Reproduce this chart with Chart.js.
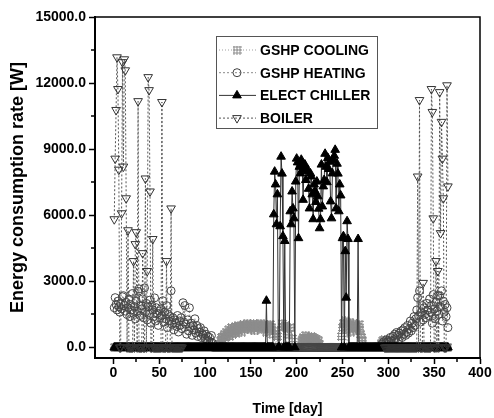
<!DOCTYPE html>
<html>
<head>
<meta charset="utf-8">
<script src="https://cdn.jsdelivr.net/npm/chart.js@4.4.1/dist/chart.umd.min.js"></script>
<style>
  html, body { margin: 0; padding: 0; background: #fff; }
</style>
</head>
<body>
<canvas id="energyChart" width="494" height="418"></canvas>
<script>
// Daily values, day 1 .. 365 (W)
const days = Array.from({ length: 365 }, (_, i) => i + 1);
const seriesNames = ['GSHP COOLING', 'GSHP HEATING', 'ELECT CHILLER', 'BOILER'];
const xTickValues = [0, 50, 100, 150, 200, 250, 300, 350, 400];
const yTickValues = [0, 3000, 6000, 9000, 12000, 15000];

const gshpCooling = [
  0,0,0,0,0,0,0,0,0,0,            // 1-10
  0,0,0,0,0,0,0,0,0,0,
  0,0,0,0,0,0,0,0,0,0,
  0,0,0,0,0,0,0,0,0,0,
  0,0,0,0,0,0,0,0,0,0,
  0,0,0,0,0,0,0,0,0,0,
  0,0,0,0,0,0,0,0,0,0,
  0,0,0,0,0,0,0,0,0,0,
  0,0,0,0,0,0,0,0,0,0,
  0,0,0,0,0,0,0,0,0,0,
  0,0,0,0,0,0,0,0,0,0,            // 101-110
  0,0,0,0,0,150,300,450,350,500,
  600,450,700,550,650,800,500,750,900,600,
  850,700,950,650,800,1000,750,900,850,700,
  950,1050,800,1000,900,1100,850,950,1050,800,
  1000,900,1080,750,950,1000,850,1050,900,950,
  1100,800,1000,950,1050,900,700,1000,850,950,
  1050,800,900,600,0,750,0,0,500,0,
  0,0,0,1080,900,0,950,1000,0,850,
  600,0,900,0,400,0,0,0,0,0,
  0,0,0,0,250,350,450,300,400,550,   // 201-210
  350,450,250,400,300,500,350,450,300,400,
  250,350,200,300,150,0,0,0,0,0,
  0,0,0,0,0,0,0,0,0,0,
  0,0,0,0,0,0,0,0,500,900,
  1100,0,1200,800,0,1050,950,1150,700,1000,
  850,1100,900,1000,750,950,0,1050,800,600,
  450,300,0,0,0,0,0,0,0,0,
  0,0,0,0,0,0,0,0,0,0,
  0,150,200,300,250,350,200,300,150,250,
  300,200,250,150,0,0,0,0,0,0,     // 301-310
  0,0,0,0,0,0,0,0,0,0,
  0,0,0,0,0,0,0,0,0,0,
  0,0,0,0,0,0,0,0,0,0,
  0,0,0,0,0,0,0,0,0,0,
  0,0,0,0,0,0,0,0,0,0,
  0,0,0,0,0                        // 361-365
];

const gshpHeating = [
  1800,2260,1950,1700,2100,1850,1600,2000,1750,2300,   // 1-10
  2350,1900,1650,2050,1500,1800,2200,1400,1950,1700,
  2450,1550,1850,1300,2100,1650,2550,2660,1450,1900,
  1750,2200,1350,2700,1600,2000,1250,1850,1500,2150,
  1100,1900,1700,1400,2250,1200,1800,1550,1000,1650,
  1350,1750,1450,2120,1150,1600,1300,1900,900,1500,
  1200,1400,2570,1050,1350,800,1250,1100,950,1450,
  700,1200,1000,1350,850,2030,1150,1900,1050,600,
  1250,750,1800,950,1100,550,990,800,1300,650,
  1000,500,850,700,900,450,630,550,750,400,
  600,350,500,300,450,250,540,200,0,0,                 // 101-110
  0,0,0,0,0,0,0,0,0,0,
  0,0,0,0,0,0,0,0,0,0,
  0,0,0,0,0,0,0,0,0,0,
  0,0,0,0,0,0,0,0,0,0,
  0,0,0,0,0,0,0,0,0,0,
  0,0,0,0,0,0,0,0,0,0,
  0,0,0,0,0,0,0,0,0,0,
  0,0,0,0,0,0,0,0,0,0,
  0,0,0,0,0,0,0,0,0,0,
  0,0,0,0,0,0,0,0,0,0,                                 // 201-210
  0,0,0,0,0,0,0,0,0,0,
  0,0,0,0,0,0,0,0,0,0,
  0,0,0,0,0,0,0,0,0,0,
  0,0,0,0,0,0,0,0,0,0,
  0,0,0,0,0,0,0,0,0,0,
  0,0,0,0,0,0,0,0,0,0,
  0,0,0,0,0,0,0,0,0,0,
  0,0,0,0,0,0,0,0,0,0,
  0,0,150,0,250,0,200,350,0,300,
  250,450,300,0,500,350,600,400,680,550,               // 301-310
  300,650,500,750,450,800,600,900,550,700,
  1000,650,850,1200,750,1100,900,1400,1000,1300,
  1700,2260,1440,2570,1150,1600,1900,1250,1800,1500,
  1350,2000,1700,1450,2200,1600,1900,1100,2400,1750,
  1300,2050,1650,2350,1500,2350,1850,2570,1200,2100,
  1600,1950,1400,1800,900                              // 361-365
];

const electChiller = [
  0,0,0,0,0,0,0,0,0,0,            // 1-10
  0,0,0,0,0,0,0,0,0,0,
  0,0,0,0,0,0,0,0,0,0,
  0,0,0,0,0,0,0,0,0,0,
  0,0,0,0,0,0,0,0,0,0,
  0,0,0,0,0,0,0,0,0,0,
  0,0,0,0,0,0,0,0,0,0,
  0,0,0,0,0,0,0,0,0,0,
  0,0,0,0,0,0,0,0,0,0,
  0,0,0,0,0,0,0,0,0,0,
  0,0,0,0,0,0,0,0,0,0,            // 101-110
  0,0,0,0,0,0,0,0,0,0,
  0,0,0,0,0,0,0,0,0,0,
  0,0,0,0,0,0,0,0,0,0,
  0,0,0,0,0,0,0,0,0,0,
  0,0,0,0,0,0,0,0,0,0,
  0,0,0,0,0,0,2120,0,0,0,
  0,0,0,0,6040,7980,7400,5590,6950,0,
  0,5500,8660,7890,5050,0,4830,0,0,0,
  0,0,6180,5590,7080,6310,5860,0,7530,8570,
  8400,4960,8200,7900,8520,8350,6700,8100,8300,7600,   // 201-210
  8000,8070,7200,6310,7900,7760,6950,5820,7400,7100,
  6600,7530,6860,6300,5410,5820,8300,6400,7310,7600,
  8790,8200,7500,8600,8100,8430,6630,5860,7900,8500,
  8700,8970,6310,8340,7890,6180,7400,6900,0,4960,
  5050,0,4370,2260,5730,4920,0,0,0,0,
  0,0,0,0,0,0,4920,0,0,0,
  0,0,0,0,0,0,0,0,0,0,
  0,0,0,0,0,0,0,0,0,0,
  0,0,0,0,0,0,0,0,0,0,
  0,0,0,0,0,0,0,0,0,0,            // 301-310
  0,0,0,0,0,0,0,0,0,0,
  0,0,0,0,0,0,0,0,0,0,
  0,0,0,0,0,0,0,0,0,0,
  0,0,0,0,0,0,0,0,0,0,
  0,0,0,0,0,0,0,0,0,0,
  0,0,0,0,0                       // 361-365
];

// boiler only runs in the heating season (null = not logged)
const boiler = [
  5820,8570,10780,13170,11730,8070,0,0,6090,12950,     // 1-10
  8210,13080,12580,6770,0,5320,0,0,0,0,
  0,3920,0,4690,5230,0,11180,0,0,0,
  0,4280,0,0,7670,0,3470,12270,11680,7080,
  0,0,4920,0,0,0,0,0,0,0,
  0,0,11140,0,0,0,0,3920,0,0,
  0,0,6310,0,0,0,0,0,0,0,
  0,0,0,0,0,null,null,null,null,null,
  null,null,null,null,null,null,null,null,null,null,
  null,null,null,null,null,null,null,null,null,null,
  null,null,null,null,null,null,null,null,null,null,   // 101-110
  null,null,null,null,null,null,null,null,null,null,
  null,null,null,null,null,null,null,null,null,null,
  null,null,null,null,null,null,null,null,null,null,
  null,null,null,null,null,null,null,null,null,null,
  null,null,null,null,null,null,null,null,null,null,
  null,null,null,null,null,null,null,null,null,null,
  null,null,null,null,null,null,null,null,null,null,
  null,null,null,null,null,null,null,null,null,null,
  null,null,null,null,null,null,null,null,null,null,
  null,null,null,null,null,null,null,null,null,null,   // 201-210
  null,null,null,null,null,null,null,null,null,null,
  null,null,null,null,null,null,null,null,null,null,
  null,null,null,null,null,null,null,null,null,null,
  null,null,null,null,null,null,null,null,null,null,
  null,null,null,null,null,null,null,null,null,null,
  null,null,null,null,null,null,null,null,null,null,
  null,null,null,null,null,null,null,null,null,null,
  null,null,null,null,null,null,null,null,null,null,
  null,null,null,null,null,0,0,0,0,0,
  0,0,0,0,0,0,0,0,0,0,                                 // 301-310
  0,0,0,0,0,0,0,0,0,0,
  0,0,0,0,0,0,0,0,0,0,
  0,7760,0,11230,0,0,0,2930,0,0,
  0,0,0,0,0,0,11730,10690,5860,0,
  0,3920,0,3470,0,11590,5190,10240,8570,6770,
  0,0,0,11900,7310                                     // 361-365
];

const FONT = "'Liberation Sans', Arial, sans-serif";

// grey "#" marker for the cooling series
function hatchMarker() {
  const c = document.createElement('canvas');
  c.width = 9; c.height = 9;
  const g = c.getContext('2d');
  g.fillStyle = '#8c8c8c';
  for (let i = 1; i < 9; i += 3) {
    g.fillRect(i, 0, 1, 9);
    g.fillRect(0, i, 9, 1);
  }
  return c;
}

function pts(values) {
  return values.map((v, i) => ({ x: days[i], y: v }));
}

function fixedTicks(values) {
  return scale => { scale.ticks = values.map(v => ({ value: v })); };
}

// short outward ticks between the labelled ones, plus the box top/right
const frameAndMinorTicks = {
  id: 'frameAndMinorTicks',
  afterDraw(chart) {
    const { ctx, chartArea: a, scales: { x, y } } = chart;
    ctx.save();
    ctx.strokeStyle = '#000';
    ctx.lineWidth = 1.5;
    ctx.beginPath();
    for (let i = 1; i < xTickValues.length; i++) {
      const px = Math.round(x.getPixelForValue((xTickValues[i - 1] + xTickValues[i]) / 2));
      ctx.moveTo(px, a.bottom);
      ctx.lineTo(px, a.bottom + 4);
    }
    for (let i = 1; i < yTickValues.length; i++) {
      const py = Math.round(y.getPixelForValue((yTickValues[i - 1] + yTickValues[i]) / 2));
      ctx.moveTo(a.left, py);
      ctx.lineTo(a.left - 4, py);
    }
    ctx.stroke();
    ctx.beginPath();
    ctx.moveTo(a.left, a.top);
    ctx.lineTo(a.right, a.top);
    ctx.lineTo(a.right, a.bottom);
    ctx.stroke();
    ctx.restore();
  }
};

// boxed legend sitting inside the plot
const boxLegend = {
  id: 'boxLegend',
  afterDraw(chart) {
    const { ctx, chartArea: a } = chart;
    const bx = a.left + 121, by = a.top + 19, bw = 161, bh = 92;
    ctx.save();
    ctx.fillStyle = '#fff';
    ctx.fillRect(bx, by, bw, bh);
    ctx.strokeStyle = '#555';
    ctx.lineWidth = 1;
    ctx.strokeRect(bx + 0.5, by + 0.5, bw, bh);
    chart.data.datasets.forEach((ds, i) => {
      const cy = by + 14 + i * 22.7;
      ctx.strokeStyle = ds.borderColor;
      ctx.lineWidth = ds.borderWidth;
      ctx.setLineDash(ds.borderDash || []);
      ctx.beginPath();
      ctx.moveTo(bx + 3, cy);
      ctx.lineTo(bx + 40, cy);
      ctx.stroke();
      ctx.setLineDash([]);
      ctx.fillStyle = ds.pointBackgroundColor;
      ctx.strokeStyle = ds.pointBorderColor;
      ctx.lineWidth = 1;
      Chart.helpers.drawPoint(ctx, {
        pointStyle: ds.pointStyle,
        rotation: ds.pointRotation || 0,
        radius: ds.pointRadius,
        borderWidth: 1
      }, bx + 21, cy);
      ctx.fillStyle = '#000';
      ctx.font = 'bold 14px ' + FONT;
      ctx.textBaseline = 'middle';
      ctx.fillText(ds.label, bx + 44, cy + 1);
    });
    ctx.restore();
  }
};

new Chart(document.getElementById('energyChart'), {
  type: 'line',
  data: {
    datasets: [
      {
        label: seriesNames[0],
        data: pts(gshpCooling),
        borderColor: '#a0a0a0',
        borderWidth: 1,
        borderDash: [1, 2],
        pointStyle: hatchMarker(),
        pointRadius: 4,
        pointBackgroundColor: '#8c8c8c',
        pointBorderColor: '#8c8c8c',
        order: 3
      },
      {
        label: seriesNames[1],
        data: pts(gshpHeating),
        borderColor: '#8a8a8a',
        borderWidth: 1,
        borderDash: [2, 2],
        pointStyle: 'circle',
        pointRadius: 4,
        pointBorderWidth: 1,
        pointBackgroundColor: 'rgba(255,255,255,0)',
        pointBorderColor: '#444',
        order: 2
      },
      {
        label: seriesNames[2],
        data: pts(electChiller),
        borderColor: '#333',
        borderWidth: 1,
        pointStyle: 'triangle',
        pointRadius: 5,
        pointBorderWidth: 1,
        pointBackgroundColor: '#000',
        pointBorderColor: '#000',
        order: 1
      },
      {
        label: seriesNames[3],
        data: pts(boiler),
        borderColor: '#555',
        borderWidth: 1,
        borderDash: [2, 2],
        pointStyle: 'triangle',
        pointRotation: 180,
        pointRadius: 5,
        pointBorderWidth: 1,
        pointBackgroundColor: 'rgba(255,255,255,0)',
        pointBorderColor: '#333',
        spanGaps: false,
        order: 0
      }
    ]
  },
  options: {
    responsive: false,
    animation: false,
    events: [],
    layout: { padding: { top: 17, right: 14, bottom: 0, left: 0 } },
    elements: { line: { tension: 0 } },
    plugins: { legend: { display: false }, tooltip: { enabled: false } },
    scales: {
      x: {
        type: 'linear',
        min: -20,
        max: 400,
        afterBuildTicks: fixedTicks(xTickValues),
        afterFit: s => { s.height = 60; },
        border: { color: '#000', width: 2 },
        grid: { drawOnChartArea: false, tickLength: 6, tickColor: '#000', tickWidth: 1.5 },
        ticks: {
          autoSkip: false,
          maxRotation: 0,
          padding: 1,
          color: '#000',
          font: { family: FONT, size: 14, weight: 'bold' }
        },
        title: {
          display: true,
          text: 'Time [day]',
          color: '#000',
          padding: { top: 0, bottom: 0 },
          font: { family: FONT, size: 14, weight: 'bold' }
        }
      },
      y: {
        type: 'linear',
        min: -480,
        max: 15000,
        afterBuildTicks: fixedTicks(yTickValues),
        afterFit: s => { s.width = 95; },
        border: { color: '#000', width: 2 },
        grid: { drawOnChartArea: false, tickLength: 6, tickColor: '#000', tickWidth: 1.5 },
        ticks: {
          autoSkip: false,
          padding: 3,
          color: '#000',
          font: { family: FONT, size: 14, weight: 'bold' },
          callback: v => Number(v).toFixed(1)
        },
        title: {
          display: true,
          text: 'Energy consumption rate [W]',
          color: '#000',
          padding: { top: 7, bottom: 0 },
          font: { family: FONT, size: 18, weight: 'bold' }
        }
      }
    }
  },
  plugins: [frameAndMinorTicks, boxLegend]
});
</script>
</body>
</html>
